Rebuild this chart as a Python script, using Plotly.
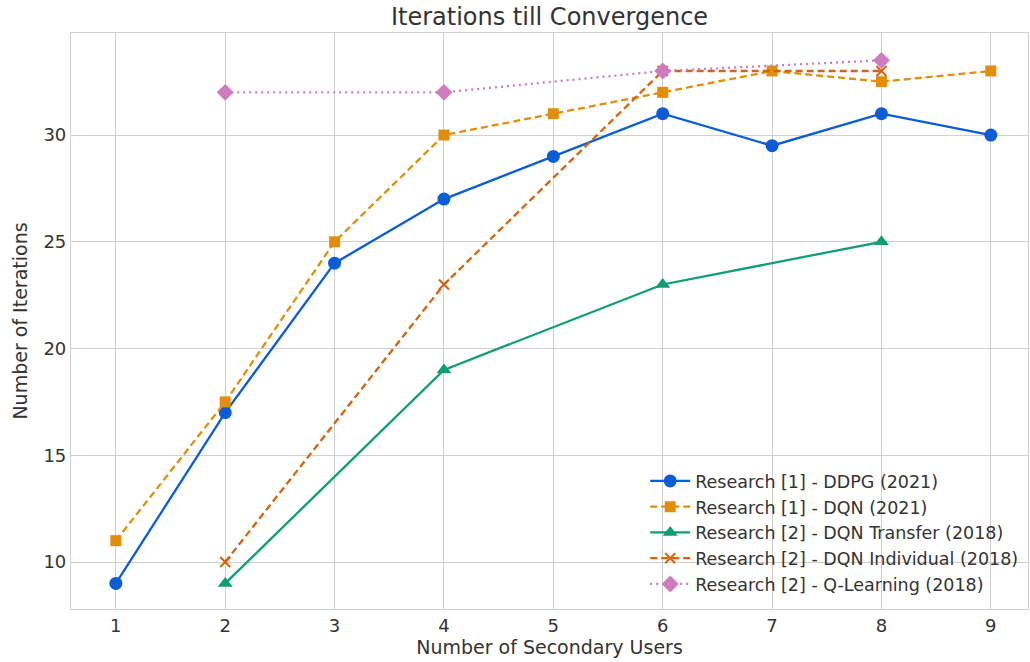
import plotly.graph_objects as go

# Number of secondary users on the x axis
users_all = [1, 2, 3, 4, 5, 6, 7, 8, 9]
users_even = [2, 4, 6, 8]

# Iterations until convergence for each method
ddpg_2021 = [9, 17, 24, 27, 29, 31, 29.5, 31, 30]
dqn_2021 = [11, 17.5, 25, 30, 31, 32, 33, 32.5, 33]
dqn_transfer_2018 = [9, 19, 23, 25]
dqn_individual_2018 = [10, 23, 33, 33]
q_learning_2018 = [32, 32, 33, 33.5]

x_ticks = [1, 2, 3, 4, 5, 6, 7, 8, 9]
y_ticks = [10, 15, 20, 25, 30]

series = [
    ("Research [1] - DDPG (2021)", users_all, ddpg_2021, "#0b5cd6", "solid", "circle", 13),
    ("Research [1] - DQN (2021)", users_all, dqn_2021, "#e38e0a", "7px,4px", "square", 11),
    ("Research [2] - DQN Transfer (2018)", users_even, dqn_transfer_2018, "#0e9e74", "solid", "triangle-up", 13),
    ("Research [2] - DQN Individual (2018)", users_even, dqn_individual_2018, "#d8620d", "7px,4px", "x-thin", 10),
    ("Research [2] - Q-Learning (2018)", users_even, q_learning_2018, "#cf7bbf", "2px,4px", "diamond", 13),
]

fig = go.Figure()
for name, xs, ys, color, dash, symbol, size in series:
    marker = dict(symbol=symbol, size=size, color=color)
    if symbol == "x-thin":
        marker["line"] = dict(color=color, width=2)
    fig.add_trace(go.Scatter(
        x=xs, y=ys, name=name, mode="lines+markers",
        line=dict(color=color, width=2.3, dash=dash),
        marker=marker,
    ))

axis_common = dict(
    showgrid=True, gridcolor="#d0d0d0", gridwidth=1,
    showline=True, linecolor="#d0d0d0", linewidth=1.2, mirror=True,
    zeroline=False, ticks="",
    tickfont=dict(size=18, color="#333333"),
)

fig.update_layout(
    width=1030, height=662,
    paper_bgcolor="white", plot_bgcolor="white",
    font=dict(family="DejaVu Sans", color="#333333"),
    margin=dict(l=71, r=2, t=33, b=53),
    title=dict(text="Iterations till Convergence", x=0.5, xref="paper", xanchor="center",
               y=0.975, yanchor="middle", font=dict(size=24, color="#333333")),
    xaxis=dict(range=[0.59, 9.34], tickvals=x_ticks,
               title=dict(text="Number of Secondary Users", font=dict(size=19), standoff=4),
               **axis_common),
    yaxis=dict(range=[7.8, 34.78], tickvals=y_ticks,
               title=dict(text="Number of Iterations", font=dict(size=19), standoff=10),
               **axis_common),
    legend=dict(x=0.6, y=0.012, xanchor="left", yanchor="bottom",
                bgcolor="rgba(0,0,0,0)", font=dict(size=17.5, color="#333333"),
                tracegroupgap=0, itemwidth=40),
)

fig.write_html("out.html")
